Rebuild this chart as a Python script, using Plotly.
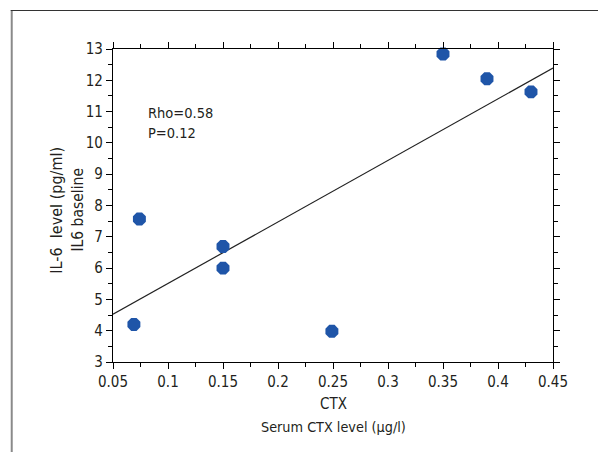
import numpy as np
import plotly.graph_objects as go

# Data
ctx = [0.069, 0.074, 0.150, 0.150, 0.249, 0.350, 0.390, 0.430]
il6 = [4.20, 7.57, 6.69, 6.00, 3.98, 12.84, 12.05, 11.63]
fit_x = [0.05, 0.45]
x_ticks = [0.05, 0.1, 0.15, 0.2, 0.25, 0.3, 0.35, 0.4, 0.45]
x_labels = ["0.05", "0.1", "0.15", "0.2", "0.25", "0.3", "0.35", "0.4", "0.45"]
y_ticks = list(range(3, 14))
stats_lines = ["Rho=0.58", "P=0.12"]

slope, intercept = np.polyfit(ctx, il6, 1)
fit_y = [slope * v + intercept for v in fit_x]

FONT = "DejaVu Sans Condensed, Liberation Sans Narrow, sans-serif"
TXT = "#231f20"

fig = go.Figure()
fig.add_trace(go.Scatter(x=fit_x, y=fit_y, mode="lines",
                         line=dict(color="#222222", width=1.2),
                         showlegend=False, hoverinfo="skip"))
fig.add_trace(go.Scatter(x=ctx, y=il6, mode="markers",
                         marker=dict(symbol="octagon", size=14, color="#1f55a8",
                                     line=dict(width=0)),
                         showlegend=False, cliponaxis=False))

axis_common = dict(showgrid=False, zeroline=False, showline=True, linecolor="black",
                   linewidth=1.2, mirror="ticks", ticks="outside", ticklen=6,
                   tickwidth=1.2, tickcolor="black",
                   tickfont=dict(family=FONT, size=15, color=TXT))

fig.update_xaxes(range=[0.05, 0.45], tickmode="array", tickvals=x_ticks, ticktext=x_labels,
                 minor=dict(dtick=0.025, ticks="outside", ticklen=4, tickwidth=1.2,
                            tickcolor="black"),
                 **axis_common)
fig.update_yaxes(range=[3, 13], tickmode="array", tickvals=y_ticks,
                 minor=dict(dtick=0.5, ticks="outside", ticklen=4, tickwidth=1.2,
                            tickcolor="black"),
                 **axis_common)

# page has an 8px body margin; work in reference-image pixels and shift
OFF = 8
W, H = 606 - OFF, 452 - OFF
L, T = 112.5 - OFF, 49 - OFF
pw, ph = 441, 313
R, B = W - L - pw, H - T - ph

def px(x):
    return (x - OFF - L) / pw

def py(y):
    return 1 - (y - OFF - T) / ph

annots = [
    dict(x=px(146), y=py(112.7), xref="paper", yref="paper", text=stats_lines[0],
         showarrow=False, xanchor="left", yanchor="middle",
         font=dict(family=FONT, size=14.5, color=TXT)),
    dict(x=px(146), y=py(132.7), xref="paper", yref="paper", text=stats_lines[1],
         showarrow=False, xanchor="left", yanchor="middle",
         font=dict(family=FONT, size=14.5, color=TXT)),
    dict(x=0.5, y=py(404), xref="paper", yref="paper", text="CTX", showarrow=False,
         xanchor="center", yanchor="middle", font=dict(family=FONT, size=15, color=TXT)),
    dict(x=0.5, y=py(427), xref="paper", yref="paper", text="Serum CTX level (μg/l)",
         showarrow=False, xanchor="center", yanchor="middle",
         font=dict(family=FONT, size=14.3, color=TXT)),
    dict(x=px(55), y=py(210), xref="paper", yref="paper", text="IL-6  level (pg/ml)",
         showarrow=False, textangle=-90, xanchor="center", yanchor="middle",
         font=dict(family=FONT, size=16, color=TXT)),
    dict(x=px(77), y=py(210), xref="paper", yref="paper", text="IL6 baseline",
         showarrow=False, textangle=-90, xanchor="center", yanchor="middle",
         font=dict(family=FONT, size=15.5, color=TXT)),
]

shapes = [
    dict(type="line", xref="paper", yref="paper", x0=px(11), x1=px(11),
         y0=py(470), y1=py(10), line=dict(color="#8a8a8a", width=2)),
    dict(type="line", xref="paper", yref="paper", x0=px(10), x1=px(620),
         y0=py(10.5), y1=py(10.5), line=dict(color="#333333", width=1.2)),
]

fig.update_layout(width=W, height=H, margin=dict(l=L, r=R, t=T, b=B, autoexpand=False),
                  paper_bgcolor="white", plot_bgcolor="white",
                  annotations=annots, shapes=shapes, showlegend=False)

fig.write_html("out.html")
